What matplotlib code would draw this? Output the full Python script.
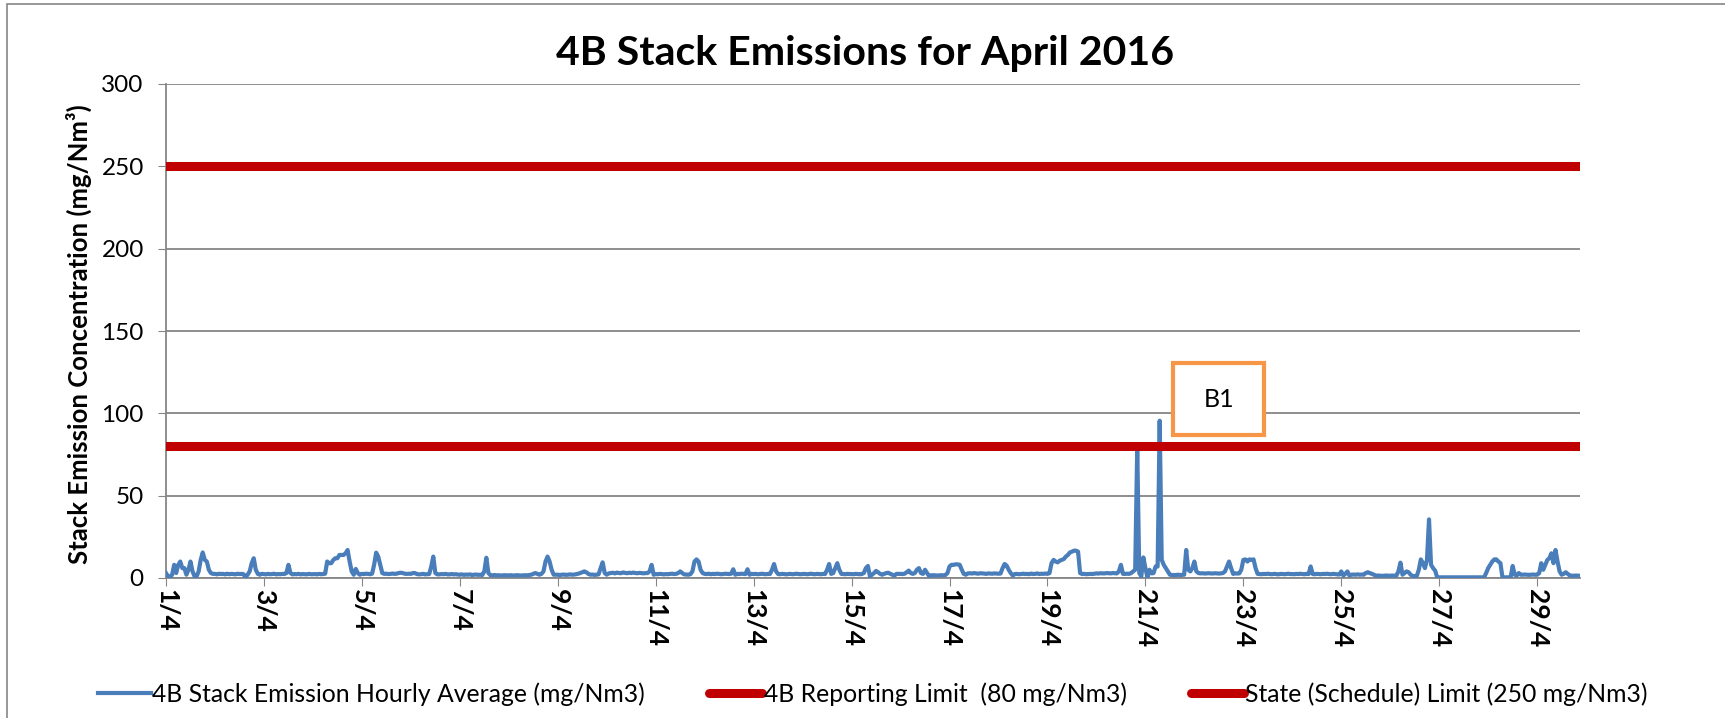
import matplotlib
matplotlib.use('Agg')
import matplotlib.pyplot as plt
from matplotlib.patches import Rectangle
import numpy as np

plt.rcParams['font.family'] = ['Lato', 'DejaVu Sans']

title = '4B Stack Emissions for April 2016'
y_label = 'Stack Emission Concentration (mg/Nm³)'
series_names = ['4B Stack Emission Hourly Average (mg/Nm3)',
                '4B Reporting Limit  (80 mg/Nm3)',
                'State (Schedule) Limit (250 mg/Nm3)']
day_labels = ['1/4', '3/4', '5/4', '7/4', '9/4', '11/4', '13/4', '15/4',
              '17/4', '19/4', '21/4', '23/4', '25/4', '27/4', '29/4']
reporting_limit = 80
state_limit = 250

# hourly averages, one row per day from 1/4 (last day is partial)
hourly_by_day = [
    [3, 1, 0.5, 2, 8, 3, 8, 10, 6, 6, 2, 5, 10, 4, 1, 1, 4, 11, 15.5, 11, 10, 5, 3, 2.5],
    [2.5, 2.2, 2.6, 2.4, 2.5, 2.2, 2.6, 2.3, 2.5, 2.4, 2.2, 2.6, 2.4, 2.5, 2.3, 0.5, 2, 4, 9, 12, 5, 2.5, 2, 2.5],
    [2.4, 2.2, 2.5, 2.3, 2.4, 2.6, 2.2, 2.4, 2.3, 2.5, 2.4, 3, 8, 3, 2.2, 2.4, 2.3, 2.5, 2.2, 2.4, 2.3, 2.2, 2.5, 2.3],
    [2.3, 2.4, 2.2, 2.5, 2.3, 2.4, 2.6, 10, 9, 9, 11, 12, 12, 14, 14, 14, 15, 17, 10, 4, 2, 5.5, 3, 2],
    [2.5, 2.4, 2.6, 2.5, 2.3, 2.6, 8, 15.4, 13, 8, 3, 2.5, 2.6, 2.4, 2.5, 2.7, 2.5, 2.6, 3, 3.2, 3, 2.6, 2.5, 2.6],
    [2.5, 3, 3, 2.4, 2.2, 2.3, 2.5, 2.2, 2.3, 2.4, 7, 13, 3, 2.2, 2.2, 2.4, 2.3, 2.5, 2.2, 2.2, 2.4, 2.2, 2.3, 2.1],
    [2, 2.2, 1.9, 2.1, 2, 2.2, 1.8, 2, 2.1, 1.9, 2, 1.8, 4, 12.3, 3, 1.7, 1.6, 1.8, 1.6, 1.7, 1.5, 1.6, 1.7, 1.6],
    [1.6, 1.7, 1.5, 1.6, 1.7, 1.6, 1.5, 1.6, 1.7, 1.6, 1.8, 2, 2.5, 3, 2.5, 2, 2.5, 4, 10, 13, 10, 5, 2, 2],
    [2, 1.8, 2, 2.1, 1.9, 2, 2.2, 2, 2.1, 2.3, 2.6, 3, 3.5, 4, 3.5, 2.5, 2, 2.1, 1.9, 2, 2.2, 6, 9.5, 3],
    [2, 2.8, 3, 3.2, 2.8, 3.3, 3, 2.9, 3.4, 3.1, 2.9, 3.2, 3, 3.3, 3, 2.9, 3.1, 3, 2.8, 3, 3, 4, 8, 2],
    [2.4, 2.3, 2.5, 2.4, 2.2, 2.4, 2.3, 2.5, 2.6, 2.4, 2.5, 3, 4, 3, 2.2, 2.1, 2, 2.3, 4, 10, 11.3, 10, 5, 3],
    [2.5, 2.4, 2.6, 2.3, 2.5, 2.4, 2.6, 2.5, 2.3, 2.4, 2.6, 2.5, 2.4, 2.6, 5.3, 2, 2.5, 2.4, 2.6, 2.5, 2.4, 5.3, 2, 2.5],
    [2.4, 2.5, 2.3, 2.4, 2.6, 2.4, 2.3, 2.5, 2.4, 5, 8.5, 4, 2.4, 2.3, 2.5, 2.4, 2.2, 2.4, 2.5, 2.3, 2.4, 2.6, 2.4, 2.3],
    [2.4, 2.5, 2.3, 2.4, 2.6, 2.4, 2.3, 2.5, 2.4, 2.3, 2.5, 2.4, 5, 8.5, 2.5, 3, 6, 9, 5, 2.5, 2.4, 2.3, 2.5, 2.4],
    [2.4, 2.3, 2.5, 2.4, 2.3, 2.4, 3, 6, 7.3, 1, 2, 3, 4.3, 3.5, 2.5, 2, 2.5, 3, 3.2, 2.5, 2, 1.5, 2.5, 2.5],
    [2.5, 2.4, 2.6, 3.5, 4.5, 3, 2.5, 3, 5, 6, 3, 2.5, 5, 3, 1.2, 1.6, 1.7, 1.6, 1.5, 1.6, 1.7, 1.6, 1.8, 3],
    [7, 8, 8, 8.3, 8.3, 8, 5, 2.5, 2, 2.8, 2.9, 2.7, 3, 2.8, 2.6, 2.9, 2.8, 2.7, 2.5, 2.8, 2.7, 2.6, 2.8, 2.7],
    [2.6, 2.7, 6, 8.5, 7.5, 5, 3, 1.5, 2.4, 2.5, 2.3, 2.4, 2.6, 2.4, 2.5, 2.3, 2.7, 2.4, 2.5, 2.8, 2.4, 2.6, 2.5, 2.7],
    [2.5, 3, 9, 11, 10, 9.5, 10.5, 11, 11.5, 13, 14, 15.5, 16, 16.6, 16.6, 16, 3, 2.4, 2.5, 2.3, 2.4, 2.5, 2.4, 2.6],
    [2.8, 2.7, 2.9, 2.8, 2.8, 3, 2.9, 2.8, 3, 2.9, 2.8, 4, 8, 2.5, 2.5, 2.6, 2.5, 3, 4, 5, 79, 3, 1, 12.5],
    [6, 0.3, 5, 2.8, 3, 7, 7, 95.5, 11, 8, 6, 4, 2, 1.8, 1.8, 1.8, 2, 1.8, 1.9, 2, 17, 5, 4, 6],
    [10, 4, 3, 2.8, 2.9, 2.7, 2.8, 2.9, 2.8, 2.7, 2.9, 2.8, 2.7, 2.8, 3, 4, 7, 10, 6, 2.5, 2.8, 2.7, 2.8, 5],
    [11, 11.3, 10, 11.3, 11, 11.3, 6, 2.5, 2.4, 2.3, 2.5, 2.4, 2.6, 2.4, 2.3, 2.5, 2.4, 2.2, 2.4, 2.5, 2.3, 2.4, 2.6, 2.4],
    [2.4, 2.3, 2.5, 2.4, 2.6, 2.4, 2.3, 2.5, 2.4, 7, 2.4, 2.3, 2.5, 2.4, 2.3, 2.5, 2.4, 2.6, 2.4, 2.3, 2.5, 2.4, 2.2, 2.1],
    [4, 1.5, 2.5, 4, 1.5, 2, 2.1, 2, 2.2, 2, 2.1, 2, 3, 3.5, 3, 2.5, 2, 1.4, 1.5, 1.4, 1.3, 1.4, 1.5, 1.4],
    [1.4, 1.5, 1.4, 1.4, 4, 9.3, 2, 3, 4, 3.5, 2, 1.2, 1.2, 1.2, 5, 11.3, 9, 6, 11, 35.6, 8, 6, 4.5, 0.4],
    [0.4, 0.4, 0.4, 0.4, 0.4, 0.4, 0.4, 0.4, 0.4, 0.4, 0.4, 0.4, 0.4, 0.4, 0.4, 0.4, 0.4, 0.4, 0.4, 0.4, 0.4, 0.4, 0.4, 3],
    [6, 8, 10, 11.3, 11.3, 10, 9, 0.4, 0.4, 0.4, 0.4, 0.4, 7.3, 2, 1.5, 3, 2, 2, 2.1, 2, 1.9, 2, 2.1, 2],
    [2, 3, 9, 5, 8, 11, 12, 15, 9, 17, 10, 4, 2, 2.5, 3.5, 2.5, 1.5, 1.4, 1.4, 1.5, 1.4, 1.4],
]

emission = np.concatenate([np.array(d, dtype=float) for d in hourly_by_day])
hours = np.arange(len(emission))

blue = '#4A7EBB'
red = '#C00000'
grey = '#868686'

fig = plt.figure(figsize=(17.25, 7.18), dpi=100)
ax = fig.add_axes([166 / 1725, 140 / 718, 1414 / 1725, 494 / 718])

l1, = ax.plot(hours, emission, color=blue, lw=3.0, zorder=3)
l2, = ax.plot(hours, np.full(len(hours), reporting_limit), color=red, lw=6.5,
              solid_capstyle='round', zorder=4)
l3, = ax.plot(hours, np.full(len(hours), state_limit), color=red, lw=6.5,
              solid_capstyle='round', zorder=4)

ax.set_xlim(0, len(hours) - 1)
ax.set_ylim(0, 300)
ax.set_yticks(range(0, 301, 50))
ax.set_xticks(hours[::48])
ax.set_xticklabels(day_labels, rotation=-90, fontweight='bold')
ax.tick_params(axis='y', length=6, color=grey, labelsize=17.5, pad=10)
ax.tick_params(axis='x', length=6, color=grey, labelsize=19, pad=2)
for lbl in ax.get_xticklabels():
    lbl.set_verticalalignment('top')

ax.yaxis.grid(True, color=grey, lw=1.3)
ax.set_axisbelow(True)
for s in ['top', 'right']:
    ax.spines[s].set_visible(False)
for s in ['left', 'bottom']:
    ax.spines[s].set_color(grey)
    ax.spines[s].set_linewidth(1.3)

# B1 label box
ax.add_patch(Rectangle((493.6, 86.8), 44.6, 43.7, facecolor='white',
                       edgecolor='#F79646', lw=3, zorder=5, clip_on=False))
ax.text(515.9, 108.6, 'B1', ha='center', va='center', fontsize=18, zorder=6)

fig.text(865 / 1725, 1 - 53 / 718, title, ha='center', va='center',
         fontsize=29.5, fontweight='bold')
fig.text(79 / 1725, 1 - 334 / 718, y_label, ha='center', va='center',
         rotation=90, fontsize=18.5, fontweight='bold')

fig.legend([l1, l2, l3], series_names, loc='center', bbox_to_anchor=(0.506, 1 - 694 / 718),
           ncol=3, frameon=False, fontsize=17.8, handlelength=2.15, handletextpad=0.05,
           columnspacing=2.6)

fig.patches.append(Rectangle((7 / 1725, -0.01), 1.1, 1.01 - 4 / 718, transform=fig.transFigure,
                             fill=False, edgecolor=grey, lw=1.2))

fig.savefig('out.png', dpi=100)
